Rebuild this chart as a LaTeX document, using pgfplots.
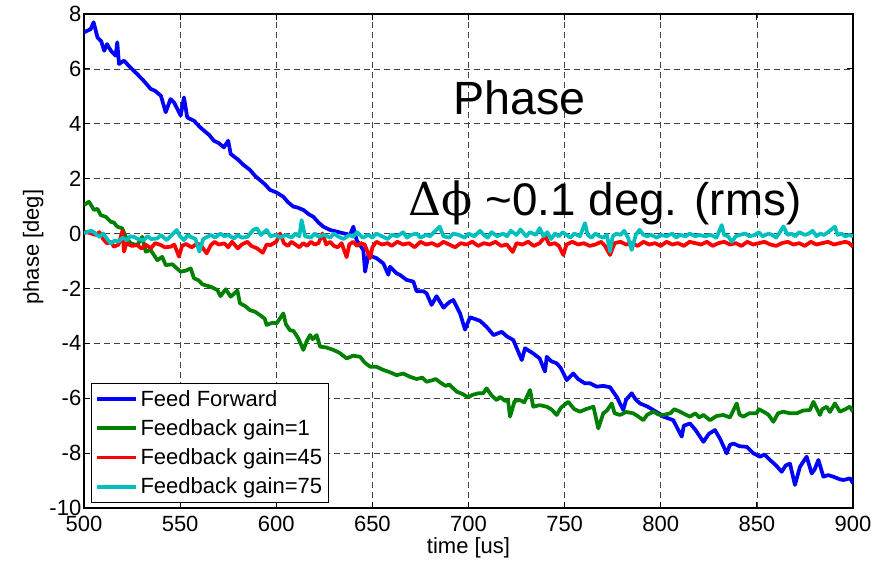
\documentclass[border=0pt]{standalone}
\usepackage{fontspec}
\setmainfont{Liberation Sans}
\newfontfamily\greekserif{DejaVu Serif}
\usepackage{pgfplots}
\usepackage{pgfplotstable}
\pgfplotsset{compat=1.18}
\definecolor{mblue}{RGB}{0,0,255}
\definecolor{mgreen}{RGB}{0,128,0}
\definecolor{mred}{RGB}{255,0,0}
\definecolor{mcyan}{RGB}{0,191,191}

\pgfplotstableread{
t v
500 7.33
502 7.40
503.5 7.45
505 7.70
507 7.15
509 7.00
510.5 6.66
512 6.90
514 6.66
516.5 6.48
517.3 6.97
518.2 6.18
520.8 6.30
524 6.06
527.7 5.81
531 5.57
534.7 5.27
537 5.20
540 5.02
542.5 4.42
545 4.90
546.8 4.78
550.3 4.30
552 4.96
553.7 4.23
557.2 4.11
560 3.90
562.4 3.75
565 3.60
567.6 3.38
570 3.30
572.8 3.14
575 3.38
576.3 2.90
580 2.70
583 2.50
586.3 2.32
589 2.10
591.5 1.95
594 1.80
596.8 1.59
600 1.50
603.7 1.34
606 1.15
608.9 0.98
611 0.95
614.1 0.86
617 0.70
619.3 0.61
622 0.40
624.5 0.25
628 0.13
631.4 0.07
634.9 0.01
638.4 -0.05
640.1 0.25
641.8 -0.24
645.3 -0.60
646.2 -1.39
647.9 -0.78
652.2 -0.90
655.7 -1.09
658.3 -1.50
659.2 -1.21
662.6 -1.45
664.4 -1.51
667.8 -1.69
671.3 -1.75
673 -2.10
676.5 -2.10
678.2 -2.18
680.8 -2.60
683.4 -2.28
687 -2.70
690 -2.50
692.1 -2.42
695.6 -2.91
698.2 -3.50
700.8 -3.05
706 -3.18
709.4 -3.40
713 -3.70
717.3 -3.58
720 -3.75
723.3 -3.88
727.7 -4.61
729.4 -4.18
733.7 -4.37
737 -4.55
739.8 -5.03
740.7 -4.49
743 -4.65
745.9 -4.73
748 -4.90
751.1 -5.34
754.5 -5.10
757 -5.30
760.6 -5.46
763 -5.45
766.7 -5.58
770 -5.55
773.6 -5.60
777.1 -5.95
780.5 -6.43
782 -6.05
784.9 -5.82
787 -6.05
789.2 -6.19
793 -6.30
796.1 -6.43
799 -6.55
801.3 -6.67
806.5 -6.80
810.9 -7.40
812 -7.00
815.2 -6.92
818 -7.15
822.2 -7.59
825 -7.30
828.2 -7.16
831 -7.50
834.3 -8.01
836 -7.70
837.8 -7.65
841 -7.75
844.7 -7.77
848 -8.00
851.6 -8.13
854 -8.05
856.8 -8.25
860 -8.45
862.9 -8.68
865 -8.45
867.2 -8.38
869.8 -9.16
872.4 -8.50
875.9 -8.13
878.5 -8.74
880 -8.60
882 -8.25
884.6 -8.86
887 -8.80
889.8 -8.86
893 -8.95
895 -8.98
898.5 -8.92
900 -9.10
}\ffdata

\pgfplotstableread{
t v
500 1.04
502.6 1.16
505.2 0.86
507 0.90
508.7 0.67
511.3 0.61
513.9 0.43
515.5 0.40
517.3 0.25
519.9 0.19
521.7 -0.12
524.3 -0.36
527.7 -0.42
530.3 -0.12
532.1 -0.66
534.7 -0.60
538.1 -0.97
540.7 -0.85
542.5 -1.15
546 -1.12
548 -1.25
550.3 -1.39
553 -1.35
555.5 -1.27
557.2 -1.63
559.5 -1.70
561.6 -1.85
564 -1.90
566 -1.94
569.4 -2.06
571 -2.28
573.7 -2.03
576.3 -2.30
579.8 -2.08
581.1 -2.54
584 -2.65
586.3 -2.79
589 -2.85
591.5 -2.97
594 -3.10
595 -3.33
598 -3.25
600.2 -3.27
603.7 -2.91
605 -3.30
607.1 -3.52
609 -3.55
611.5 -3.82
614.1 -4.24
616 -3.90
617.6 -3.70
619 -3.85
621 -3.70
622.8 -4.12
626 -4.15
629.7 -4.24
633 -4.35
636.6 -4.55
640 -4.45
643.6 -4.49
646 -4.70
648.8 -4.85
652 -4.85
655.7 -4.97
659 -5.05
662.6 -5.16
666 -5.10
669.6 -5.22
673 -5.30
676 -5.25
678.2 -5.40
681 -5.35
683 -5.30
685.2 -5.42
688 -5.55
690 -5.50
693.8 -5.76
697 -5.85
699.9 -5.97
702 -5.88
705.1 -5.82
707.7 -5.82
709.4 -5.64
712 -5.90
714.7 -6.07
716.4 -5.95
719 -6.10
720.5 -6.05
721.6 -6.67
724 -6.10
726.8 -6.07
729 -6.15
732 -5.70
733.7 -6.31
737 -6.25
740.7 -6.31
743 -6.40
745.9 -6.61
748 -6.35
751.9 -6.13
755 -6.40
758 -6.49
761 -6.40
765 -6.31
767.5 -7.10
770.1 -6.55
772 -6.45
774.5 -6.19
776 -6.55
778.8 -6.61
782 -6.50
785.7 -6.55
788 -6.65
790.9 -6.80
793 -6.60
796.1 -6.49
799 -6.60
801.3 -6.61
805 -6.55
807 -6.40
810 -6.49
813 -6.60
815.2 -6.67
818 -6.55
820 -6.70
822.2 -6.61
825.6 -6.80
829 -6.65
832.5 -6.61
836 -6.70
839.5 -6.19
841 -6.60
843 -6.67
846 -6.55
849.9 -6.55
851 -6.40
853.4 -6.49
856 -6.60
858.6 -6.86
861 -6.55
863.8 -6.49
867 -6.55
870.7 -6.55
874 -6.45
877.6 -6.43
879.4 -6.13
882.8 -6.61
884 -6.40
886.3 -6.31
888 -6.50
890.6 -6.19
893.2 -6.49
896 -6.40
898.4 -6.31
900 -6.49
}\fbonedata

\pgfplotstableread{
t v
500 0.07
503 0.02
506 -0.05
508 0.05
510 -0.20
512 -0.36
514 -0.30
515.6 -0.48
518 -0.40
520 0.10
520.8 -0.66
522 -0.36
525 -0.45
527.7 -0.42
530 -0.55
532 -0.40
534.7 -0.54
537 -0.35
540 -0.42
542 -0.50
545 -0.48
547 -0.40
549.4 -0.84
551 -0.45
553 -0.38
556 -0.50
559 -0.36
561 -0.45
563.8 -0.72
566 -0.42
568 -0.30
570 -0.40
573 -0.36
575 -0.50
577 -0.30
580 -0.54
582 -0.40
585 -0.30
587 -0.45
590 -0.54
593 -0.70
595 -0.40
597 -0.42
600 -0.30
602 0.00
604 -0.35
606 -0.45
608 -0.30
610 -0.40
612 -0.50
614 -0.35
616 -0.45
618 -0.30
620 -0.40
622 -0.35
624 0.00
626 -0.40
628 -0.30
630 -0.45
632 -0.50
634 -0.35
636.6 -0.86
638 -0.40
640 -0.30
642 -0.45
644 -0.35
646 -0.40
648.8 -0.90
650 -0.50
652 -0.30
655 -0.40
658 -0.35
660 -0.45
663 -0.30
666 -0.40
669 -0.35
672 -0.50
675 -0.30
678 -0.40
681 -0.35
684 -0.45
687 -0.30
690 -0.40
693 -0.50
696 -0.35
699 -0.40
702 -0.30
705 -0.45
708 -0.35
711 -0.40
714 -0.30
717 -0.45
720 -0.40
723 -0.67
725 -0.35
728 -0.40
731 -0.30
734 -0.45
737 -0.35
740 -0.10
742 -0.40
745 -0.35
747 -0.45
749.3 -0.78
751 -0.40
754 -0.30
757 -0.40
760 -0.35
763 -0.45
766 -0.40
769 -0.30
771 -0.45
773.6 -0.78
776 -0.35
779 -0.30
782 -0.40
785 -0.35
788 -0.45
791 -0.30
794 -0.40
797 -0.35
800 -0.45
803 -0.30
806 -0.40
809 -0.35
812 -0.45
815 -0.30
818 -0.35
821 -0.40
824 -0.30
827 -0.45
830 -0.35
833 -0.30
836 -0.40
839 -0.35
842 -0.45
845 -0.30
848 -0.40
851 -0.35
854 -0.30
857 -0.40
860 -0.45
863 -0.35
866 -0.30
869 -0.40
872 -0.35
875 -0.45
878 -0.30
881 -0.40
884 -0.35
887 -0.30
890 -0.40
893 -0.35
896 -0.30
898 -0.35
900 -0.48
}\fbfortyfive

\pgfplotstableread{
t v
500 0.00
502 0.07
504 0.10
506 0.00
508 -0.12
510 0.00
512 -0.20
514 -0.36
516 -0.25
518 -0.30
520 -0.15
522.5 -0.24
524 -0.10
526 -0.12
528 -0.20
531 -0.24
533 -0.10
535 -0.20
538 -0.18
540 -0.05
543 -0.24
545 -0.10
548.2 0.13
550 -0.10
552 -0.24
554 -0.05
555.5 -0.12
558 -0.20
560 -0.66
562 -0.20
564 -0.12
566 -0.05
568 -0.15
571 0.00
573 -0.10
575 -0.05
578 -0.18
580 -0.05
582 -0.15
585 -0.12
588 0.13
590 0.19
592 -0.05
595 0.13
597 -0.10
600 -0.05
602 -0.15
605 -0.05
608 -0.15
610 0.00
612 -0.10
613.2 0.49
615 -0.10
618 -0.15
620 0.00
622 -0.12
625 -0.05
628 -0.15
630 0.00
632 -0.10
635 -0.20
638 -0.05
640 -0.12
642 0.05
645 -0.15
648 -0.05
650 -0.15
652 0.00
655 -0.10
658 -0.20
660 -0.05
663 -0.10
666 0.05
668 -0.15
670 -0.05
673 0.00
675 -0.15
678 -0.05
680 -0.10
682 0.05
685 0.25
687 -0.10
690 -0.15
692 0.00
695 -0.05
698 -0.15
700 0.00
703 -0.10
706 0.10
708 -0.05
710 -0.15
712 0.05
715 -0.10
718 0.00
720 -0.10
722 0.10
725 -0.05
727 0.15
730 -0.10
732 0.05
735 -0.05
737 0.20
739 -0.10
741 0.05
743 -0.20
745 0.00
747 -0.10
749 0.05
751 -0.05
753 -0.15
755 0.00
758 -0.10
760.6 0.38
762 -0.05
764 -0.15
766 0.00
768 -0.10
770 -0.15
772 -0.05
773.6 -0.66
775 -0.10
777 0.00
779 -0.05
781 0.10
783 -0.15
784.9 -0.60
787 -0.05
789 0.14
791 -0.05
793 -0.10
795 -0.05
798 -0.15
800 -0.05
803 -0.10
806 0.00
808 -0.15
810 -0.05
813 -0.10
815 0.00
818 -0.10
820 -0.05
823 -0.10
826 -0.05
829 -0.15
831.7 0.31
833 -0.05
835 -0.10
837 -0.30
839 -0.10
841 -0.05
844 0.00
846 -0.10
849 -0.05
851 0.05
853 -0.10
856 0.00
858 -0.05
860 -0.15
862 0.05
863.8 0.26
866 -0.05
868 0.00
870 -0.10
872 0.05
875 -0.05
877 0.00
879 0.10
881 -0.10
883 0.00
885 -0.05
887 0.05
890.6 0.25
892 -0.05
894 0.00
896 -0.10
898 -0.05
900 -0.10
}\fbseventyfive

\begin{document}
\begin{tikzpicture}
\begin{axis}[
  scale only axis,
  width=576.75pt, height=370.5pt,
  xmin=500, xmax=900, ymin=-10, ymax=8,
  xtick={500,550,...,900},
  ytick={-10,-8,...,8},
  xtick pos=both, ytick pos=both,
  tick align=inside,
  major tick length=4.5pt,
  every tick/.style={black, line width=0.6pt},
  axis line style={black, line width=0.8pt},
  grid=major,
  major grid style={black!75, line width=0.5pt, dash pattern=on 4.5pt off 3pt},
  /pgf/number format/assume math mode=true,
  /pgf/number format/set thousands separator={},
  ticklabel style={font=\fontsize{16.5}{19.8}\selectfont},
  xticklabel style={yshift=-2.5pt},
  yticklabel style={xshift=1.5pt},
  xlabel={time [us]},
  ylabel={phase [deg]},
  label style={font=\fontsize{16.5}{19.8}\selectfont},
  xlabel style={at={(axis description cs:0.5,-0.081)}, anchor=center},
  ylabel style={at={(axis description cs:-0.066,0.528)}, anchor=center},
  legend style={at={(axis description cs:0.009,0.01)}, anchor=south west,
    font=\fontsize{16.5}{19.8}\selectfont, draw=black, line width=0.8pt,
    inner xsep=3pt, inner ysep=3pt, row sep=4.5pt,
    cells={anchor=west}},
  legend image code/.code={\draw[#1, line width=2.8pt] (0pt,0pt) -- (29pt,0pt);},
  every axis plot/.append style={line width=2.8pt, line join=round},
]
\coordinate (SW) at (rel axis cs:0,0);
\coordinate (NE) at (rel axis cs:1,1);
\addplot[mblue] table[x=t, y=v] {\ffdata};
\addlegendentry{Feed Forward}
\addplot[mgreen] table[x=t, y=v] {\fbonedata};
\addlegendentry{Feedback gain=1}
\addplot[mred] table[x=t, y=v] {\fbfortyfive};
\addlegendentry{Feedback gain=45}
\addplot[mcyan] table[x=t, y=v] {\fbseventyfive};
\addlegendentry{Feedback gain=75}
\node[anchor=base west, inner sep=0pt, font=\fontsize{35}{42}\selectfont] at (axis cs:691.9,4.32) {Phase};
\node[anchor=base west, inner sep=0pt, font=\fontsize{34.3}{42}\selectfont] at (axis cs:668.8,0.675) {{\greekserif Δϕ} \textasciitilde0.1 deg. (rms)};
\end{axis}
\pgfresetboundingbox
\path ([shift={(-63pt,-41.25pt)}]SW) rectangle ([shift={(25.5pt,10.5pt)}]NE);
\end{tikzpicture}
\end{document}
